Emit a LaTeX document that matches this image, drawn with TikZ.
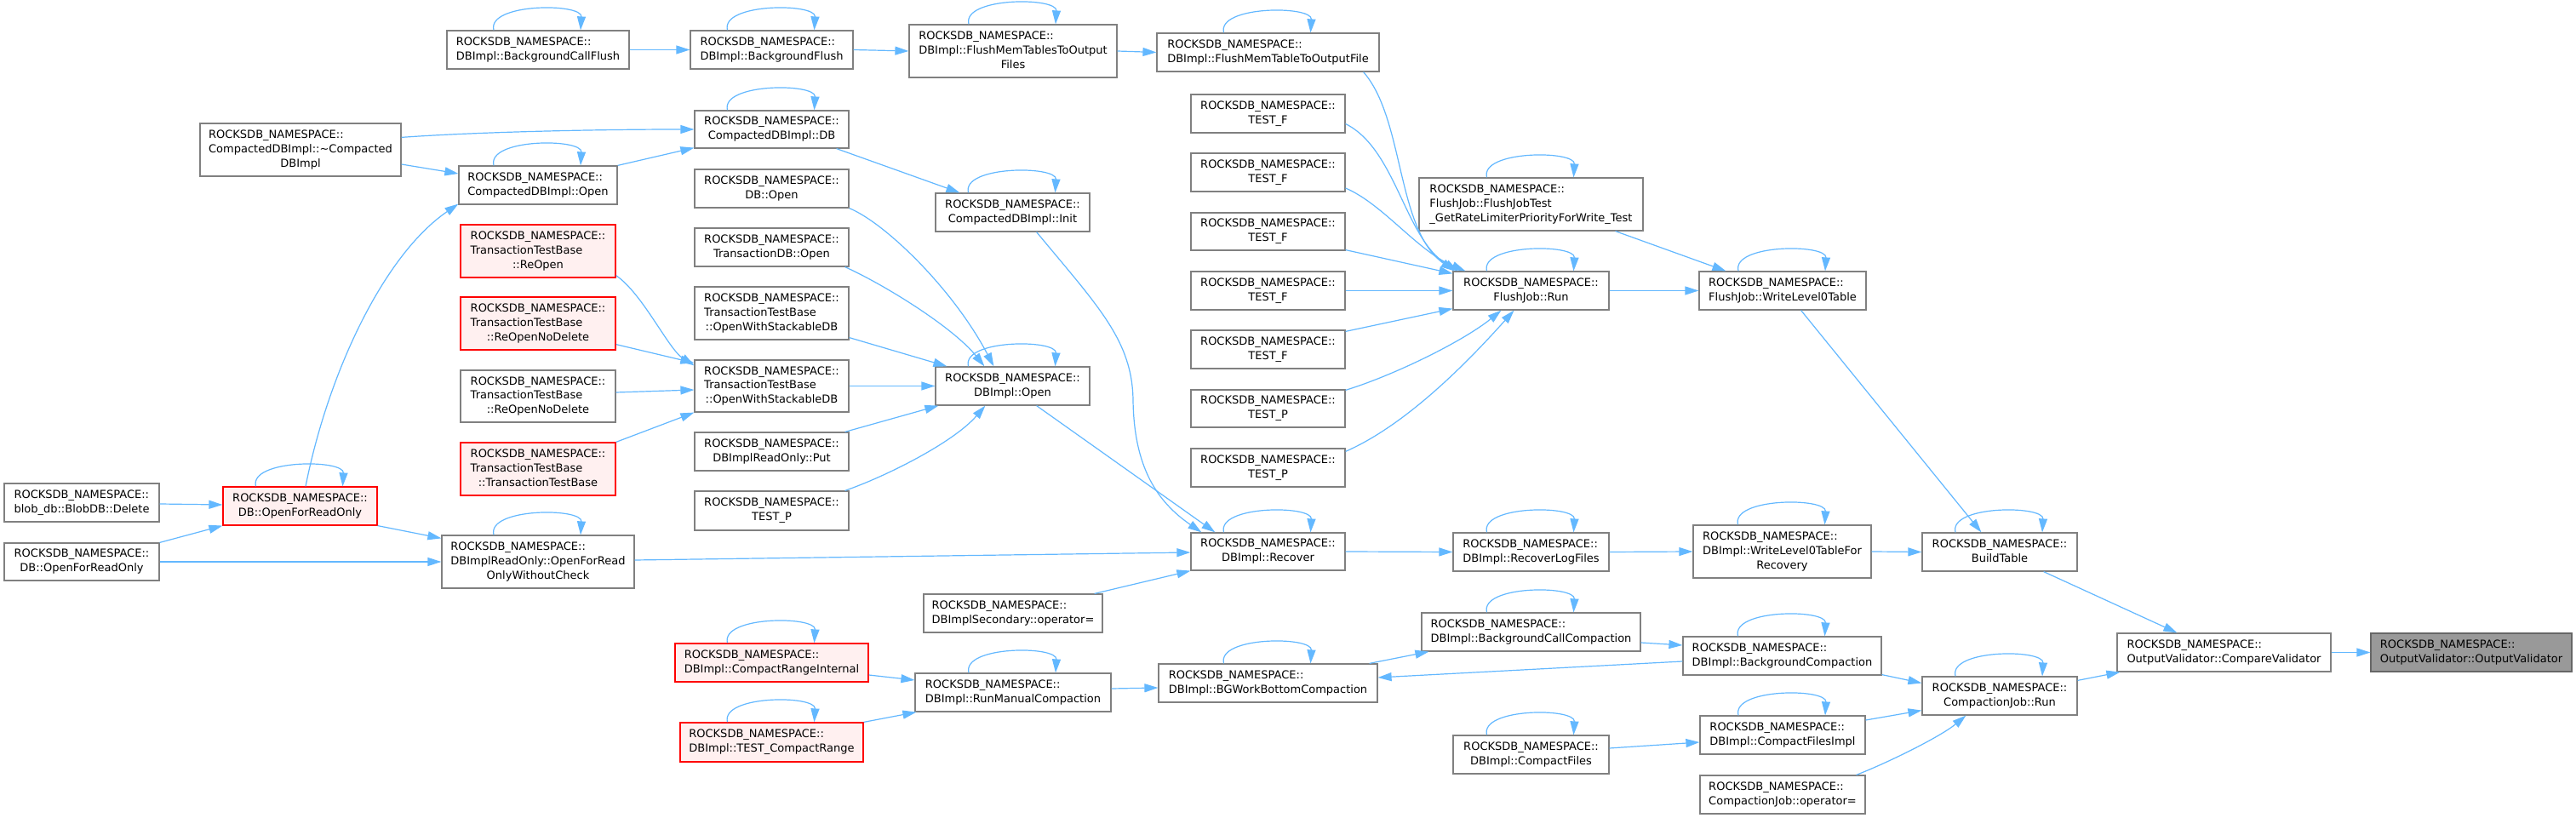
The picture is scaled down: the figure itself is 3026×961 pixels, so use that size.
\documentclass[tikz,border=0pt]{standalone}
\usepackage{fontspec}
\setmainfont{DejaVu Sans}
\usetikzlibrary{arrows.meta,calc}
\definecolor{edgeblue}{HTML}{63B8FF}
\definecolor{boxborder}{HTML}{808080}
\definecolor{redfill}{HTML}{FFF0F0}
\definecolor{rootfill}{HTML}{999999}
\definecolor{rootborder}{HTML}{666666}
\newcommand\twol[2]{\begin{tabular}{@{}l@{}}#1\\\multicolumn{1}{@{}c@{}}{#2}\end{tabular}}
\newcommand\threel[3]{\begin{tabular}{@{}l@{}}#1\\#2\\\multicolumn{1}{@{}c@{}}{#3}\end{tabular}}
\newcommand\rns{ROCKSDB\_NAMESPACE::}
\tikzset{
  box/.style={draw=boxborder, fill=white, line width=0.6pt, inner sep=0pt,
    font=\fontsize{6.5pt}{8.35pt}\selectfont},
  redbox/.style={box, draw=red},
  redboxf/.style={box, draw=red, fill=redfill},
  rootbox/.style={box, draw=rootborder, fill=rootfill},
  edge/.style={draw=edgeblue, line width=0.6pt, -{Triangle[length=8pt,width=5pt]}},
}
\newcommand\mynode[7][box]{\node[#1, minimum width={(#5-#3)*0.5pt}, minimum height={(#6-#4)*0.5pt}] (#2) at ({(#3+#5)/2},{(#4+#6)/2}) {#7};}
\newcommand\selfloop[1]{\draw[edge] ($(#1.north)+(-52,0)$) .. controls +(-8,-32) and +(2,-32) .. ($(#1.north)+(50,0)$);}
\begin{document}
\begin{tikzpicture}[x=0.5pt,y=-0.5pt]
\useasboundingbox (0,0) rectangle (3026,961);
\fill[white] (0,0) rectangle (3026,961);
% rank 0
\mynode{blobdel}{5}{568}{187}{613}{\twol{\rns}{blob\_db::BlobDB::Delete}}
\mynode{dbofrob}{5}{638}{187}{682}{\twol{\rns}{DB::OpenForReadOnly}}
% rank 1
\mynode{dtor}{235}{145}{471}{207}{\threel{\rns}{CompactedDBImpl::\textasciitilde Compacted}{DBImpl}}
\mynode[redboxf]{dbofro}{262}{572}{443}{617}{\twol{\rns}{DB::OpenForReadOnly}}
% rank 2
\mynode{bcf}{525}{36}{739}{81}{\twol{\rns}{DBImpl::BackgroundCallFlush}}
\mynode{cdbopen}{539}{195}{725}{240}{\twol{\rns}{CompactedDBImpl::Open}}
\mynode[redboxf]{reopen}{541}{264}{723}{326}{\threel{\rns}{TransactionTestBase}{::ReOpen}}
\mynode[redboxf]{rnda}{541}{349}{723}{411}{\threel{\rns}{TransactionTestBase}{::ReOpenNoDelete}}
\mynode{rndb}{541}{435}{723}{496}{\threel{\rns}{TransactionTestBase}{::ReOpenNoDelete}}
\mynode[redboxf]{ttb}{541}{520}{723}{582}{\threel{\rns}{TransactionTestBase}{::TransactionTestBase}}
\mynode{ofrowc}{519}{629}{745}{691}{\threel{\rns}{DBImplReadOnly::OpenForRead}{OnlyWithoutCheck}}
% rank 3
\mynode{bf}{811}{36}{1002}{81}{\twol{\rns}{DBImpl::BackgroundFlush}}
\mynode{cdb}{816}{130}{997}{174}{\twol{\rns}{CompactedDBImpl::DB}}
\mynode{dbopen}{816}{199}{997}{244}{\twol{\rns}{DB::Open}}
\mynode{tdbopen}{816}{268}{997}{313}{\twol{\rns}{TransactionDB::Open}}
\mynode{owsa}{816}{337}{997}{399}{\threel{\rns}{TransactionTestBase}{::OpenWithStackableDB}}
\mynode{owsb}{816}{423}{997}{484}{\threel{\rns}{TransactionTestBase}{::OpenWithStackableDB}}
\mynode{put}{816}{508}{997}{553}{\twol{\rns}{DBImplReadOnly::Put}}
\mynode{testpz}{816}{577}{997}{623}{\twol{\rns}{TEST\_P}}
\mynode[redboxf]{cri}{793}{756}{1020}{801}{\twol{\rns}{DBImpl::CompactRangeInternal}}
\mynode[redboxf]{tcr}{799}{849}{1014}{895}{\twol{\rns}{DBImpl::TEST\_CompactRange}}
% rank 4
\mynode{fmts}{1068}{29}{1312}{91}{\threel{\rns}{DBImpl::FlushMemTablesToOutput}{Files}}
\mynode{init}{1099}{227}{1280}{272}{\twol{\rns}{CompactedDBImpl::Init}}
\mynode{dbiopen}{1099}{431}{1280}{476}{\twol{\rns}{DBImpl::Open}}
\mynode{secop}{1085}{698}{1295}{743}{\twol{\rns}{DBImplSecondary::operator=}}
\mynode{rmc}{1075}{791}{1305}{836}{\twol{\rns}{DBImpl::RunManualCompaction}}
% rank 5
\mynode{fmt}{1359}{39}{1620}{84}{\twol{\rns}{DBImpl::FlushMemTableToOutputFile}}
\mynode{tfa}{1399}{111}{1580}{156}{\twol{\rns}{TEST\_F}}
\mynode{tfb}{1399}{180}{1580}{225}{\twol{\rns}{TEST\_F}}
\mynode{tfc}{1399}{250}{1580}{294}{\twol{\rns}{TEST\_F}}
\mynode{tfd}{1399}{319}{1580}{364}{\twol{\rns}{TEST\_F}}
\mynode{tfe}{1399}{388}{1580}{433}{\twol{\rns}{TEST\_F}}
\mynode{tpa}{1399}{458}{1580}{502}{\twol{\rns}{TEST\_P}}
\mynode{tpb}{1399}{527}{1580}{572}{\twol{\rns}{TEST\_P}}
\mynode{recover}{1399}{626}{1580}{670}{\twol{\rns}{DBImpl::Recover}}
\mynode{bgwbc}{1361}{780}{1618}{825}{\twol{\rns}{DBImpl::BGWorkBottomCompaction}}
% rank 6
\mynode{frtest}{1667}{209}{1930}{271}{\threel{\rns}{FlushJob::FlushJobTest}{\_GetRateLimiterPriorityForWrite\_Test}}
\mynode{fjrun}{1707}{319}{1890}{364}{\twol{\rns}{FlushJob::Run}}
\mynode{rlf}{1707}{626}{1890}{671}{\twol{\rns}{DBImpl::RecoverLogFiles}}
\mynode{bcc}{1670}{720}{1927}{765}{\twol{\rns}{DBImpl::BackgroundCallCompaction}}
\mynode{cf}{1707}{864}{1890}{909}{\twol{\rns}{DBImpl::CompactFiles}}
% rank 7
\mynode{wl}{1996}{319}{2192}{364}{\twol{\rns}{FlushJob::WriteLevel0Table}}
\mynode{wlr}{1989}{617}{2198}{679}{\threel{\rns}{DBImpl::WriteLevel0TableFor}{Recovery}}
\mynode{bc}{1977}{748}{2210}{793}{\twol{\rns}{DBImpl::BackgroundCompaction}}
\mynode{cfi}{1997}{841}{2191}{886}{\twol{\rns}{DBImpl::CompactFilesImpl}}
\mynode{cjop}{1997}{911}{2191}{956}{\twol{\rns}{CompactionJob::operator=}}
% rank 8
\mynode{bt}{2258}{626}{2440}{671}{\twol{\rns}{BuildTable}}
\mynode{cjrun}{2258}{795}{2440}{840}{\twol{\rns}{CompactionJob::Run}}
% rank 9, 10
\mynode{cv}{2487}{744}{2738}{789}{\twol{\rns}{OutputValidator::CompareValidator}}
\mynode[rootbox]{ov}{2785}{744}{3021}{789}{\twol{\rns}{OutputValidator::OutputValidator}}

% self loops
\foreach \n in {bcf,bf,fmts,fmt,cdb,cdbopen,init,dbiopen,dbofro,ofrowc,frtest,fjrun,wl,recover,rlf,wlr,bt,cri,tcr,rmc,bgwbc,bcc,bc,cf,cfi,cjrun}{\selfloop{\n}}

% top chain
\draw[edge] (bcf.east) -- (bf.west);
\draw[edge] (bf.east) -- (fmts.west);
\draw[edge] (fmts.east) -- (fmt.west);
\draw[edge] ($(fmt.south east)+(-19,0)$) .. controls (1650,140) and (1640,270) .. ($(fjrun.north west)+(2,0)$);
% TEST_F / TEST_P -> FlushJob::Run
\draw[edge] ($(tfa.east)+(0,12)$) .. controls (1640,175) and (1650,280) .. ($(fjrun.north west)+(6,0)$);
\draw[edge] ($(tfb.east)+(0,18.5)$) .. controls (1625,240) and (1665,295) .. ($(fjrun.north west)+(15,0)$);
\draw[edge] ($(tfc.south east)+(0,-1)$) -- ($(fjrun.north west)+(0,3)$);
\draw[edge] (tfd.east) -- (fjrun.west);
\draw[edge] ($(tfe.north east)+(0,2)$) -- ($(fjrun.south west)+(0,-2)$);
\draw[edge] ($(tpa.north east)+(0,1)$) .. controls (1640,440) and (1720,400) .. ($(fjrun.south)+(-35,0)$);
\draw[edge] ($(tpb.north east)+(0,4)$) .. controls (1650,500) and (1720,430) .. ($(fjrun.south)+(-20,0)$);
\draw[edge] ($(frtest.south east)+(-33,0)$) -- ($(wl.north west)+(32,0)$);
\draw[edge] (fjrun.east) -- (wl.west);
\draw[edge] ($(wl.south east)+(-77,0)$) -- ($(bt.north west)+(70,0)$);
\draw[edge] ($(bt.south east)+(-40,0)$) -- ($(cv.north west)+(71,0)$);
\draw[edge] (cv.east) -- (ov.west);
\draw[edge] ($(cjrun.north east)+(0,5)$) -- ($(cv.south west)+(4,0)$);
% recover chain
\draw[edge] (recover.east) -- (rlf.west);
\draw[edge] (rlf.east) -- (wlr.west);
\draw[edge] (wlr.east) -- (bt.west);
% compaction
\draw[edge] ($(bgwbc.north east)+(-10,0)$) -- ($(bcc.south west)+(9,0)$);
\draw[edge] ($(bcc.east)+(0,12.5)$) -- ($(bc.west)+(0,-12.5)$);
\draw[edge] ($(bc.west)+(0,6.5)$) -- ($(bgwbc.east)+(0,-6.5)$);
\draw[edge] ($(bc.south east)+(0,-1)$) -- ($(cjrun.west)+(0,-15)$);
\draw[edge] ($(cfi.east)+(0,-17.5)$) -- ($(cjrun.south west)+(0,-6)$);
\draw[edge] ($(cjop.north east)+(-11,0)$) .. controls (2220,895) and (2280,865) .. ($(cjrun.south west)+(52,0)$);
\draw[edge] ($(cf.east)+(0,-7.5)$) -- ($(cfi.west)+(0,8.5)$);
\draw[edge] ($(rmc.east)+(0,-4.5)$) -- ($(bgwbc.west)+(0,5.5)$);
\draw[edge] ($(cri.east)+(0,14.5)$) -- ($(rmc.west)+(0,-14.5)$);
\draw[edge] (tcr.north east) -- ($(rmc.south west)+(2,0)$);
% into recover
\draw[edge] ($(secop.north east)+(-10,0)$) -- (recover.south west);
\draw[edge] ($(ofrowc.east)+(0,-2)$) -- ($(recover.west)+(0,1)$);
\draw[edge] ($(dbiopen.south east)+(-63,0)$) -- ($(recover.north west)+(29,0)$);
\draw[edge] ($(init.south east)+(-63,0)$) .. controls (1290,360) and (1330,400) .. (1331,470) .. controls (1332,550) and (1360,590) .. ($(recover.north west)+(13,0)$);
% compacted db
\draw[edge] ($(cdb.south east)+(-15,0)$) -- ($(init.north west)+(29,0)$);
\draw[edge] ($(dtor.north east)+(0,17)$) .. controls (560,155) and (700,152) .. (cdb.west);
\draw[edge] ($(dtor.east)+(0,17)$) -- ($(cdbopen.west)+(0,-13.5)$);
\draw[edge] (cdbopen.north east) -- ($(cdb.south west)+(0,-1)$);
\draw[edge] ($(dbofro.north)+(6.5,0)$) .. controls (385,440) and (450,300) .. ($(cdbopen.south west)+(0,-1)$);
% read only
\draw[edge] ($(blobdel.east)+(0,1.5)$) -- ($(dbofro.west)+(0,-1.5)$);
\draw[edge] (dbofrob.north east) -- (dbofro.south west);
\draw[edge] (dbofrob.east) -- (ofrowc.west);
\draw[edge] (dbofro.south east) -- ($(ofrowc.north west)+(0,4)$);
% transaction test base
\draw[edge] ($(reopen.south east)+(0,-3)$) .. controls (755,345) and (785,410) .. ($(owsb.north west)+(0,7)$);
\draw[edge] ($(rnda.south east)+(0,-7)$) -- ($(owsb.north west)+(0,4)$);
\draw[edge] ($(rndb.east)+(0,-4.5)$) -- ($(owsb.west)+(0,4.5)$);
\draw[edge] (ttb.north east) -- (owsb.south west);
% into DBImpl::Open
\draw[edge] (owsb.east) -- (dbiopen.west);
\draw[edge] ($(owsa.south east)+(0,-3)$) -- ($(dbiopen.north west)+(14,0)$);
\draw[edge] ($(tdbopen.south east)+(-5,0)$) .. controls (1040,335) and (1120,385) .. ($(dbiopen.north west)+(58,0)$);
\draw[edge] (dbopen.south east) .. controls (1040,262) and (1120,340) .. ($(dbiopen.north west)+(69,0)$);
\draw[edge] ($(put.north east)+(-5,0)$) -- ($(dbiopen.south west)+(4,0)$);
\draw[edge] ($(testpz.north east)+(-5,0)$) .. controls (1040,560) and (1120,520) .. ($(dbiopen.south west)+(59,0)$);
\end{tikzpicture}
\end{document}
